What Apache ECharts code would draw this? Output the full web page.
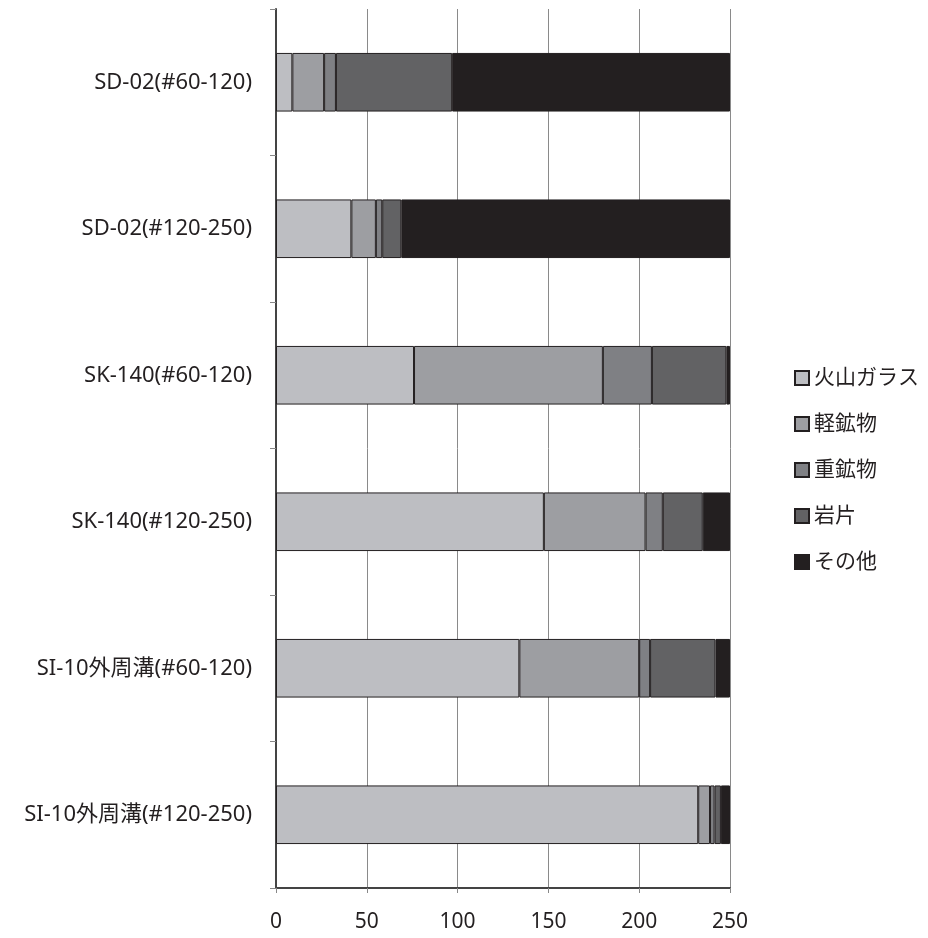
<!DOCTYPE html>
<html><head><meta charset="utf-8">
<script src="https://cdn.jsdelivr.net/npm/echarts@6/dist/echarts.min.js"></script>
<style>html,body{margin:0;padding:0;background:#fff}#c{width:928px;height:938px}</style>
</head><body><div id="c"></div>
<script>
const categories = ["SD-02(#60-120)","SD-02(#120-250)","SK-140(#60-120)","SK-140(#120-250)","SI-10外周溝(#60-120)","SI-10外周溝(#120-250)"];
const seriesNames = ["火山ガラス","軽鉱物","重鉱物","岩片","その他"];
const volcanicGlass = [9, 41.5, 76, 147.5, 134, 232.5];
const lightMinerals = [17.5, 13.5, 104, 56, 66, 6.5];
const heavyMinerals = [6.5, 3.5, 27, 9.5, 6, 2.5];
const rockFragments = [64, 10.5, 41, 22, 36, 3.5];
const others = [153, 181, 2, 15, 8, 5];
const xTicks = [0, 50, 100, 150, 200, 250];

const colors = ["#bdbec2","#9d9ea2","#7f8084","#626264","#231f20"];
const values = [volcanicGlass, lightMinerals, heavyMinerals, rockFragments, others];
const FONT = "'Noto Sans', 'Noto Sans CJK JP', sans-serif";

const chart = echarts.init(document.getElementById('c'), null, {renderer:'canvas'});
chart.setOption({
  animation: false,
  backgroundColor: '#fff',
  textStyle: {fontFamily: FONT, color: '#231f20'},
  grid: {left: 276, right: 198, top: 9, bottom: 50, containLabel: false},
  legend: {
    orient: 'vertical', left: 789, top: 362,
    itemWidth: 14, itemHeight: 14, itemGap: 24,
    icon: 'rect',
    textStyle: {fontFamily: FONT, fontSize: 21, color: '#231f20', lineHeight: 22},
    data: seriesNames
  },
  xAxis: {
    type: 'value', min: xTicks[0], max: xTicks[xTicks.length-1], interval: 50,
    axisLine: {show: true, lineStyle: {color: '#444', width: 2}},
    axisTick: {show: true, length: 5, lineStyle: {color: '#888'}},
    axisLabel: {fontFamily: FONT, fontSize: 21, color: '#231f20', margin: 24},
    splitLine: {show: true, lineStyle: {color: '#8a8a8a', width: 1}}
  },
  yAxis: {
    type: 'category', inverse: true, data: categories,
    axisLine: {show: true, lineStyle: {color: '#444', width: 2}},
    axisTick: {show: true, length: 6, lineStyle: {color: '#888'}},
    axisLabel: {fontFamily: FONT, fontSize: 22, color: '#231f20', margin: 24},
    splitLine: {show: false}
  },
  series: seriesNames.map((n, i) => ({
    name: n, type: 'bar', stack: 'total', barWidth: '40%',
    data: values[i],
    itemStyle: {color: colors[i], borderColor: '#231f20', borderWidth: 1}
  }))
});
</script></body></html>
